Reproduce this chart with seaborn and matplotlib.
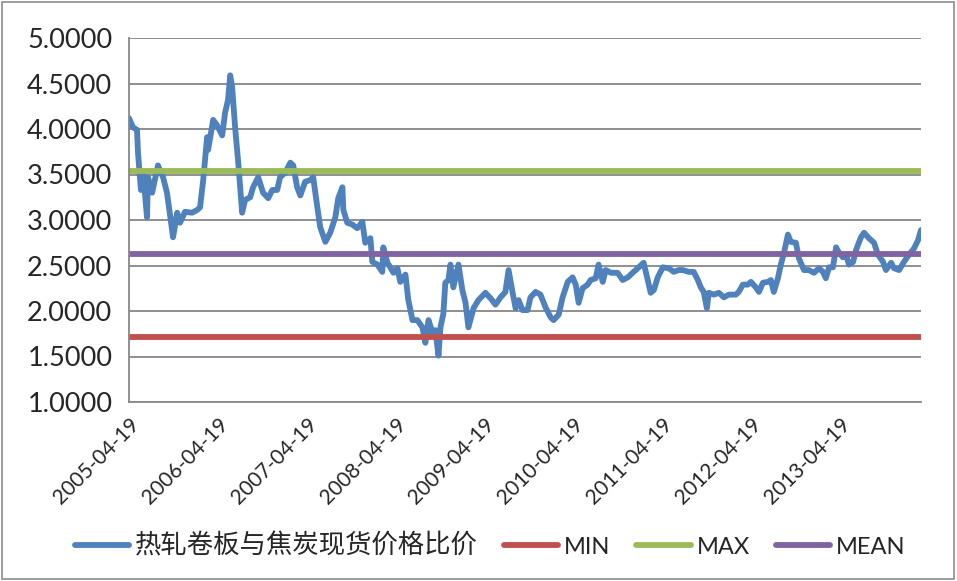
import pandas as pd
import numpy as np
import matplotlib
matplotlib.use("Agg")
import matplotlib.pyplot as plt
import matplotlib.dates as mdates
from matplotlib.patches import Rectangle
import seaborn as sns

# ------------------------------------------------------------------
# data
# ------------------------------------------------------------------
dates = [
    "2005-04-19", "2005-05-05", "2005-05-22", "2005-05-26", "2005-06-07", "2005-06-16",
    "2005-07-02", "2005-07-06", "2005-07-23", "2005-08-16", "2005-09-06", "2005-09-22",
    "2005-10-05", "2005-10-17", "2005-11-03", "2005-11-15", "2005-12-05", "2006-01-03",
    "2006-01-24", "2006-02-05", "2006-02-18", "2006-03-06", "2006-03-10", "2006-03-31",
    "2006-04-16", "2006-05-07", "2006-05-19", "2006-05-31", "2006-06-09", "2006-06-17",
    "2006-06-29", "2006-07-12", "2006-07-28", "2006-08-09", "2006-08-30", "2006-09-11",
    "2006-10-02", "2006-10-22", "2006-11-12", "2006-11-29", "2006-12-19", "2006-12-31",
    "2007-01-21", "2007-02-11", "2007-02-23", "2007-03-11", "2007-03-24", "2007-04-13",
    "2007-05-04", "2007-05-16", "2007-06-02", "2007-06-14", "2007-07-05", "2007-07-25",
    "2007-08-15", "2007-08-27", "2007-09-13", "2007-09-17", "2007-10-03", "2007-10-24",
    "2007-11-13", "2007-12-04", "2007-12-16", "2008-01-06", "2008-01-14", "2008-02-04",
    "2008-02-24", "2008-02-28", "2008-03-16", "2008-03-28", "2008-04-10", "2008-04-26",
    "2008-05-08", "2008-05-29", "2008-06-10", "2008-06-27", "2008-07-17", "2008-08-07",
    "2008-08-19", "2008-09-01", "2008-09-17", "2008-09-29", "2008-10-12", "2008-10-20",
    "2008-11-01", "2008-11-09", "2008-11-22", "2008-11-30", "2008-12-12", "2009-01-02",
    "2009-01-18", "2009-01-31", "2009-02-12", "2009-03-05", "2009-03-25", "2009-04-23",
    "2009-05-14", "2009-06-03", "2009-06-24", "2009-07-14", "2009-07-27", "2009-08-12",
    "2009-08-25", "2009-09-06", "2009-09-22", "2009-10-13", "2009-10-25", "2009-11-15",
    "2009-12-05", "2009-12-26", "2010-01-16", "2010-01-28", "2010-02-18", "2010-03-06",
    "2010-03-27", "2010-04-16", "2010-04-29", "2010-05-11", "2010-05-27", "2010-06-17",
    "2010-06-29", "2010-07-20", "2010-08-01", "2010-08-18", "2010-08-30", "2010-09-20",
    "2010-10-18", "2010-11-08", "2010-11-29", "2010-12-19", "2011-01-09", "2011-02-02",
    "2011-02-19", "2011-03-03", "2011-03-16", "2011-04-01", "2011-04-22", "2011-05-16",
    "2011-06-06", "2011-06-26", "2011-07-13", "2011-08-07", "2011-08-27", "2011-09-13",
    "2011-09-25", "2011-10-07", "2011-10-20", "2011-10-28", "2011-11-18", "2011-12-08",
    "2011-12-29", "2012-01-18", "2012-02-16", "2012-02-28", "2012-03-16", "2012-04-05",
    "2012-04-18", "2012-05-08", "2012-05-21", "2012-06-06", "2012-06-27", "2012-07-09",
    "2012-07-21", "2012-08-07", "2012-08-19", "2012-09-01", "2012-09-17", "2012-09-29",
    "2012-10-20", "2012-11-01", "2012-11-22", "2012-12-12", "2013-01-02", "2013-01-23",
    "2013-02-08", "2013-02-20", "2013-03-05", "2013-03-21", "2013-04-03", "2013-04-15",
    "2013-05-01", "2013-05-14", "2013-05-26", "2013-06-12", "2013-06-24", "2013-07-14",
    "2013-07-27", "2013-08-16", "2013-09-06", "2013-09-22", "2013-10-13", "2013-10-25",
    "2013-11-15", "2013-11-27", "2013-12-18", "2014-01-07", "2014-01-28", "2014-02-18",
    "2014-03-06", "2014-03-18",
]

ratio = [
    4.12, 4.02, 3.99, 3.74, 3.33, 3.52,
    3.03, 3.47, 3.30, 3.60, 3.47, 3.30,
    3.05, 2.81, 3.08, 2.97, 3.09, 3.08,
    3.11, 3.14, 3.44, 3.91, 3.77, 4.10,
    4.04, 3.93, 4.18, 4.32, 4.59, 4.46,
    4.02, 3.63, 3.08, 3.22, 3.25, 3.36,
    3.47, 3.30, 3.24, 3.33, 3.33, 3.47,
    3.52, 3.63, 3.60, 3.36, 3.27, 3.42,
    3.44, 3.47, 3.14, 2.92, 2.76, 2.86,
    3.03, 3.24, 3.36, 3.11, 2.97, 2.95,
    2.91, 2.98, 2.75, 2.80, 2.54, 2.51,
    2.43, 2.70, 2.53, 2.48, 2.42, 2.47,
    2.32, 2.40, 2.12, 1.90, 1.90, 1.82,
    1.65, 1.90, 1.76, 1.79, 1.51, 1.82,
    1.97, 2.31, 2.34, 2.51, 2.26, 2.51,
    2.23, 2.09, 1.82, 2.03, 2.12, 2.20,
    2.14, 2.07, 2.15, 2.21, 2.45, 2.21,
    2.03, 2.12, 2.01, 2.01, 2.15, 2.21,
    2.18, 2.04, 1.93, 1.90, 1.96, 2.15,
    2.32, 2.37, 2.29, 2.09, 2.25, 2.29,
    2.34, 2.36, 2.51, 2.32, 2.45, 2.42,
    2.42, 2.34, 2.37, 2.42, 2.47, 2.53,
    2.34, 2.20, 2.23, 2.37, 2.48, 2.47,
    2.43, 2.45, 2.45, 2.43, 2.43, 2.34,
    2.26, 2.21, 2.03, 2.20, 2.18, 2.20,
    2.15, 2.18, 2.18, 2.21, 2.29, 2.29,
    2.32, 2.26, 2.21, 2.31, 2.32, 2.34,
    2.21, 2.36, 2.51, 2.64, 2.84, 2.76,
    2.75, 2.58, 2.45, 2.45, 2.42, 2.47,
    2.43, 2.36, 2.48, 2.48, 2.70, 2.64,
    2.59, 2.62, 2.51, 2.54, 2.67, 2.81,
    2.86, 2.80, 2.75, 2.62, 2.54, 2.45,
    2.53, 2.47, 2.45, 2.54, 2.62, 2.69,
    2.78, 2.89,
]

min_value = 1.714
max_value = 3.538
mean_value = 2.626

series_names = ["热轧卷板与焦炭现货价格比价", "MIN", "MAX", "MEAN"]
series_colors = ["#4F81BD", "#C0504D", "#9BBB59", "#8064A2"]
tick_dates = ["2005-04-19", "2006-04-19", "2007-04-19", "2008-04-19", "2009-04-19",
              "2010-04-19", "2011-04-19", "2012-04-19", "2013-04-19"]
y_ticks = [1.0, 1.5, 2.0, 2.5, 3.0, 3.5, 4.0, 4.5, 5.0]

# ------------------------------------------------------------------
# long-form table: ratio plus the three reference levels
# ------------------------------------------------------------------
d = pd.to_datetime(dates)
n = len(d)
df = pd.concat([
    pd.DataFrame({"date": d, "value": ratio, "series": series_names[0]}),
    pd.DataFrame({"date": d, "value": [min_value] * n, "series": series_names[1]}),
    pd.DataFrame({"date": d, "value": [max_value] * n, "series": series_names[2]}),
    pd.DataFrame({"date": d, "value": [mean_value] * n, "series": series_names[3]}),
], ignore_index=True)

sns.set_style("white")
plt.rcParams["font.family"] = ["Lato", "Noto Sans CJK SC", "DejaVu Sans"]

fig = plt.figure(figsize=(9.57, 5.81), dpi=100)
ax = fig.add_axes([129 / 957, 1 - 402 / 581, (921 - 129) / 957, (402 - 38) / 581])

sns.lineplot(
    data=df, x="date", y="value", hue="series",
    hue_order=series_names, palette=series_colors,
    estimator=None, linewidth=4.2, ax=ax,
)

# axes look (Excel style)
grid_c = "#878787"
ax.set_xlim(d[0], d[-1])
ax.set_ylim(1, 5)
ax.set_yticks(y_ticks)
ax.set_yticklabels([f"{v:.4f}" for v in y_ticks])
ax.set_xticks(pd.to_datetime(tick_dates))
ax.xaxis.set_major_formatter(mdates.DateFormatter("%Y-%m-%d"))
ax.yaxis.grid(True, color=grid_c, linewidth=1.3)
ax.xaxis.grid(False)
ax.set_axisbelow(True)
for side in ["top", "right"]:
    ax.spines[side].set_visible(False)
for side in ["left", "bottom"]:
    ax.spines[side].set_color(grid_c)
    ax.spines[side].set_linewidth(1.3)

ax.tick_params(axis="y", direction="out", length=6, color=grid_c, labelsize=19.5, pad=6)
ax.tick_params(axis="x", direction="out", length=6, color=grid_c, labelsize=15, pad=3)
for lab in ax.get_xticklabels():
    lab.set_rotation(45)
    lab.set_ha("right")
    lab.set_rotation_mode("anchor")
ax.set_xlabel("")
ax.set_ylabel("")

handles, labels = ax.get_legend_handles_labels()
ax.get_legend().remove()
leg = fig.legend(
    handles, labels, loc="center", bbox_to_anchor=(0.512, 0.06), ncol=4,
    frameon=False, fontsize=17, handlelength=2.3, handletextpad=0.25,
    columnspacing=1.1,
)
leg.get_texts()[0].set_fontsize(19)

# chart-area border
fig.patches.append(Rectangle((0.002, 0.003), 0.995, 0.994, transform=fig.transFigure,
                             fill=False, edgecolor="#8c8c8c", linewidth=1.2))

fig.savefig("out.png", dpi=100)
